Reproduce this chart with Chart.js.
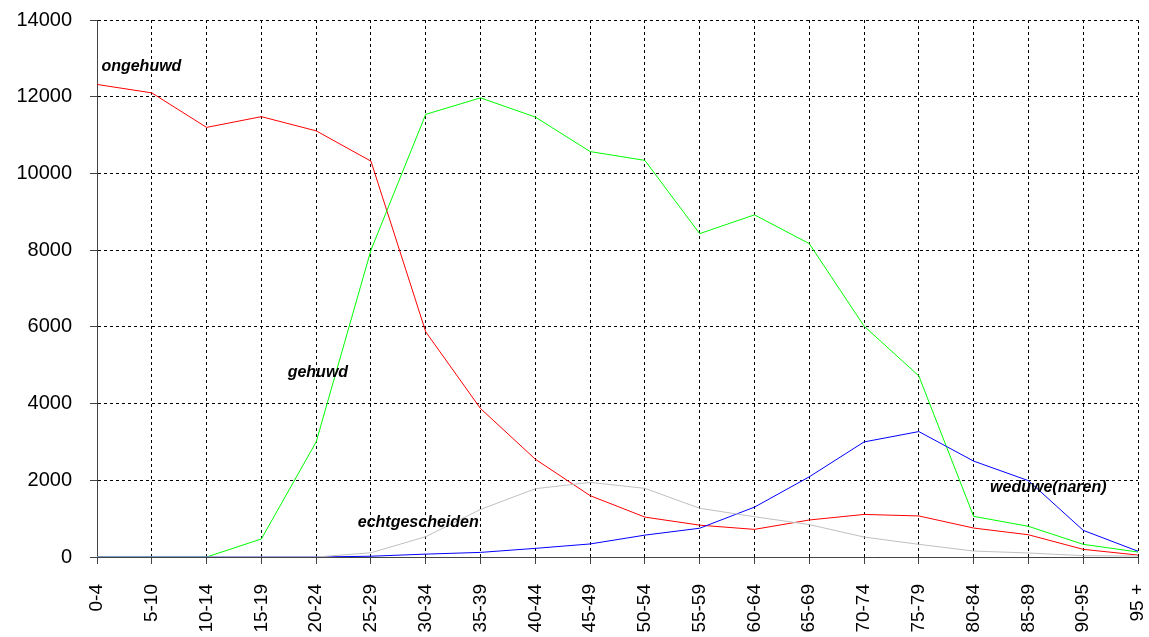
<!DOCTYPE html>
<html>

<head>
    <title>Burgerlijke staat naar leeftijd</title>
    <script src="https://cdn.jsdelivr.net/npm/chart.js"></script>
    <style>
        html, body { margin: 0; padding: 0; background: #fff; }
        #wrap { width: 1149px; height: 637px; }
    </style>
</head>

<body>
    <div id="wrap"><canvas id="staatChart"></canvas></div>
    <script>
        // age groups on the x axis
        const ageGroups = ['0-4', '5-10', '10-14', '15-19', '20-24', '25-29', '30-34', '35-39', '40-44', '45-49',
            '50-54', '55-59', '60-64', '65-69', '70-74', '75-79', '80-84', '85-89', '90-95', '95 +'];

        // values
        const ongehuwd = [12320, 12100, 11200, 11480, 11110, 10320, 5870, 3870, 2550, 1600,
            1040, 830, 720, 965, 1110, 1070, 755, 580, 200, 50];
        const gehuwd = [0, 0, 0, 470, 3000, 8000, 11540, 11970, 11470, 10570,
            10340, 8430, 8920, 8170, 6020, 4720, 1060, 800, 330, 130];
        const weduwe = [0, 0, 0, 0, 0, 20, 75, 120, 225, 340,
            570, 750, 1300, 2090, 3000, 3270, 2500, 1990, 695, 150];
        const echtgescheiden = [0, 0, 0, 0, 0, 110, 530, 1240, 1780, 1945,
            1790, 1270, 1050, 845, 520, 330, 155, 105, 35, 25];

        // series names written inside the plot: [text, x (category index), y (value)]
        const seriesLabels = [
            ['ongehuwd', 0.08, 12780],
            ['gehuwd', 3.48, 4820],
            ['echtgescheiden', 4.76, 890],
            ['weduwe(naren)', 16.3, 1800]
        ];

        const yTicks = { min: 0, max: 14000, step: 2000 };

        const font = "'Liberation Sans', Arial, sans-serif";

        // draws the series names at data positions
        const labelPlugin = {
            id: 'seriesLabels',
            afterDatasetsDraw(chart) {
                const ctx = chart.ctx;
                const xs = chart.scales.x, ys = chart.scales.y;
                ctx.save();
                ctx.font = 'italic bold 16px ' + font;
                ctx.fillStyle = '#000';
                ctx.textBaseline = 'middle';
                ctx.textAlign = 'left';
                seriesLabels.forEach(l => {
                    ctx.fillText(l[0], xs.getPixelForValue(l[1]), ys.getPixelForValue(l[2]));
                });
                ctx.restore();
            }
        };

        function line(label, data, color) {
            return {
                label: label,
                data: data,
                borderColor: color,
                backgroundColor: color,
                borderWidth: 1,
                pointRadius: 0,
                tension: 0,
                fill: false
            };
        }

        const ctx = document.getElementById('staatChart').getContext('2d');
        const chart = new Chart(ctx, {
            type: 'line',
            data: {
                labels: ageGroups,
                datasets: [
                    line('echtgescheiden', echtgescheiden, '#c0c0c0'),
                    line('weduwe(naren)', weduwe, '#0000ff'),
                    line('gehuwd', gehuwd, '#00ff00'),
                    line('ongehuwd', ongehuwd, '#ff0000')
                ]
            },
            plugins: [labelPlugin],
            options: {
                responsive: true,
                maintainAspectRatio: false,
                animation: false,
                layout: {
                    padding: { top: 20, right: 11, left: 0, bottom: 0 }
                },
                plugins: {
                    legend: { display: false },
                    tooltip: { enabled: false }
                },
                scales: {
                    x: {
                        offset: false,
                        afterFit: s => {
                            s.height = 80;
                            s.paddingLeft = 0;
                            s.paddingRight = 0;
                        },
                        grid: {
                            color: '#000',
                            tickColor: '#444',
                            tickLength: 7,
                            lineWidth: 1
                        },
                        border: { color: '#444', width: 1, dash: [3, 3] },
                        ticks: {
                            autoSkip: false,
                            maxRotation: 90,
                            minRotation: 90,
                            padding: 20,
                            color: '#000',
                            font: { family: font, size: 19 }
                        }
                    },
                    y: {
                        min: yTicks.min,
                        max: yTicks.max,
                        afterFit: s => {
                            s.width = 97;
                            s.paddingTop = 0;
                            s.paddingBottom = 0;
                        },
                        grid: {
                            color: '#000',
                            tickColor: '#444',
                            tickLength: 7,
                            lineWidth: 1
                        },
                        border: { color: '#444', width: 1, dash: [3, 3] },
                        ticks: {
                            stepSize: yTicks.step,
                            padding: 18,
                            color: '#000',
                            font: { family: font, size: 20 },
                            callback: v => String(v)
                        }
                    }
                }
            }
        });
    </script>
</body>

</html>
